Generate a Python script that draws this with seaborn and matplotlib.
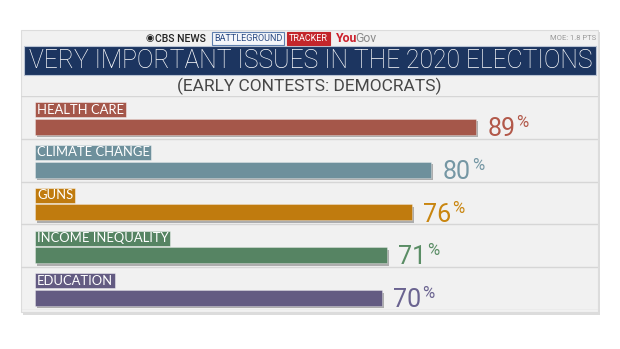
import matplotlib
matplotlib.use("Agg")
import matplotlib.pyplot as plt
import matplotlib.patches as mpatches
import matplotlib.patheffects as pe
import seaborn as sns

categories = ["HEALTH CARE", "CLIMATE CHANGE", "GUNS", "INCOME INEQUALITY", "EDUCATION"]
values = [89, 80, 76, 71, 70]
bar_colors = ["#a5574a", "#6e909c", "#c07b0e", "#568463", "#635b82"]
value_colors = ["#b25849", "#7597a4", "#c98610", "#5a8d65", "#6a6390"]
title = "VERY IMPORTANT ISSUES IN THE 2020 ELECTIONS"
subtitle = "(EARLY CONTESTS: DEMOCRATS)"
moe = "MOE: 1.8 PTS"

sns.set_theme(style="white")
plt.rcParams["font.family"] = ["Roboto", "DejaVu Sans"]

W, H = 620, 349
fig = plt.figure(figsize=(W / 100, H / 100), dpi=100)
fig.patch.set_facecolor("white")

def fx(px):
    return px / W

def fy(py):
    return 1 - py / H

# panel background with shadow
shadow = mpatches.Rectangle((fx(23), fy(315)), fx(598 - 21), (315 - 32) / H,
                            transform=fig.transFigure, facecolor="#dcdcdc", edgecolor="none", zorder=-2)
fig.patches.append(shadow)
panel = mpatches.Rectangle((fx(21), fy(312)), fx(598 - 21), (312 - 30) / H,
                           transform=fig.transFigure, facecolor="#f1f1f1", edgecolor="#dcdcdc",
                           linewidth=0.8, zorder=-1)
fig.patches.append(panel)
# title bar
tbar = mpatches.Rectangle((fx(24), fy(75)), fx(596 - 24), (75 - 46) / H,
                          transform=fig.transFigure, facecolor="#1c3560", edgecolor="#b9c3d3",
                          linewidth=0.8, zorder=1)
fig.patches.append(tbar)

fig.text(fx(311), fy(61), title, ha="center", va="center", color="white",
         fontsize=17.8, fontweight="light", zorder=3)
fig.text(fx(309), fy(86), subtitle, ha="center", va="center", color="#474747",
         fontsize=12.5, zorder=3)

# header
fig.text(fx(145), fy(38.5), "\u25c9", ha="left", va="center", color="#222222",
         fontsize=7, family=["DejaVu Sans"], zorder=3)
fig.text(fx(155), fy(38.5), "CBS NEWS", ha="left", va="center", color="#222222",
         fontsize=7.6, fontweight="medium", zorder=3)
fig.text(fx(248), fy(38.5), "BATTLEGROUND", ha="center", va="center", color="#2e4d84",
         fontsize=6.5, zorder=3,
         bbox=dict(boxstyle="square,pad=0.25", facecolor="#f4f6fa", edgecolor="#5f7fae", linewidth=0.8))
fig.text(fx(308.5), fy(38.5), "TRACKER", ha="center", va="center", color="white",
         fontsize=6.5, zorder=3,
         bbox=dict(boxstyle="square,pad=0.25", facecolor="#c3262b", edgecolor="#c3262b", linewidth=0.8))
fig.text(fx(335.5), fy(38.5), "You", ha="left", va="center", color="#cc1f2b",
         fontsize=8.8, fontweight="bold", zorder=3)
fig.text(fx(355.5), fy(38.5), "Gov", ha="left", va="center", color="#8a8a8a",
         fontsize=8.8, zorder=3)
fig.text(fx(596), fy(38.5), moe, ha="right", va="center", color="#9a9a9a",
         fontsize=5.5, zorder=3)

# bar axes
ax = fig.add_axes([fx(21), fy(310), fx(598 - 21), (310 - 96) / H])
ax.set_zorder(2)
ax.set_facecolor("none")
sns.barplot(x=values, y=categories, hue=categories, palette=bar_colors, orient="h",
            width=0.37, saturation=1, legend=False, ax=ax, zorder=3)
px_per_unit = (476 - 35) / 89
ax.set_xlim((21 - 35) / px_per_unit, (598 - 35) / px_per_unit)
ax.set_ylim(4.28, -0.72)
for s in ax.spines.values():
    s.set_visible(False)
ax.set_xticks([])
ax.set_yticks([])
ax.set_xlabel("")
ax.set_ylabel("")

for p in ax.patches:
    p.set_edgecolor((1, 1, 1, 0.35))
    p.set_linewidth(0.6)
    p.set_path_effects([pe.SimplePatchShadow(offset=(1.5, -1.8), shadow_rgbFace="black", alpha=0.28),
                        pe.Normal()])

for i in range(6):
    ax.axhline(i - 0.72, color="#d6d6d6", linewidth=1.0, zorder=1)

for i, (cat, v) in enumerate(zip(categories, values)):
    ax.text(0.4, i - 0.40, cat, ha="left", va="center", color="white",
            fontsize=9.4, family=["Lato", "DejaVu Sans"], zorder=4,
            bbox=dict(boxstyle="square,pad=0.12", facecolor=bar_colors[i],
                      edgecolor=(1, 1, 1, 0.5), linewidth=0.6))
    t = ax.text(v + 2.3, i + 0.215, str(v), ha="left", va="baseline",
                color=value_colors[i], fontsize=18, zorder=4)
    ax.annotate("%", xy=(1, 1), xycoords=t, xytext=(0.6, 1.4), textcoords="offset points",
                ha="left", va="top", color=value_colors[i], fontsize=12, zorder=4)

fig.savefig("out.png", dpi=100, facecolor="white")
